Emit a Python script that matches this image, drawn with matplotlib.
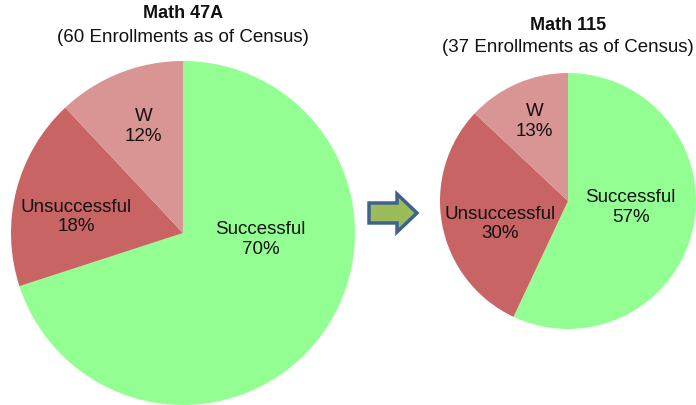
import matplotlib
matplotlib.use("Agg")
import matplotlib.pyplot as plt
from matplotlib.patches import Polygon

plt.rcParams['font.family'] = ['Liberation Sans', 'DejaVu Sans']

categories = ["Successful", "Unsuccessful", "W"]
math47a_values = [70, 18, 12]
math115_values = [57, 30, 13]
titles = ["Math 47A", "Math 115"]
subtitles = ["(60 Enrollments as of Census)", "(37 Enrollments as of Census)"]

colors = ["#93FF93", "#C86464", "#D99594"]

W, H = 696, 405
fig = plt.figure(figsize=(W / 100, H / 100), dpi=100)

def px_axes(cx, cy, r):
    return fig.add_axes([(cx - r) / W, (H - cy - r) / H, 2 * r / W, 2 * r / H])

ax1 = px_axes(183, 233, 172)
ax2 = px_axes(568, 201, 128)

label_pos = [
    [(0.45, -0.04), (-0.62, 0.093), (-0.23, 0.62)],
    [(0.49, -0.05), (-0.53, -0.18), (-0.26, 0.62)],
]

for ax, vals, lp in zip([ax1, ax2], [math47a_values, math115_values], label_pos):
    ax.pie(vals, colors=colors, startangle=90, counterclock=False, radius=1.0,
           wedgeprops=dict(linewidth=0))
    ax.set_xlim(-1, 1)
    ax.set_ylim(-1, 1)
    ax.set_aspect('equal')
    ax.axis('off')
    total = sum(vals)
    for cat, v, (x, y) in zip(categories, vals, lp):
        ax.text(x, y, f"{cat}\n{round(100 * v / total)}%", ha='center', va='center',
                fontsize=13.5, color='#111111', linespacing=1.22)

# titles
fig.text(183 / W, 1 - 14 / H, titles[0], ha='center', va='center', fontsize=13,
         fontweight='bold', color='#111111')
fig.text(183 / W, 1 - 38 / H, subtitles[0], ha='center', va='center', fontsize=13.5,
         color='#111111')
fig.text(568 / W, 1 - 25 / H, titles[1], ha='center', va='center', fontsize=13,
         fontweight='bold', color='#111111')
fig.text(568 / W, 1 - 48 / H, subtitles[1], ha='center', va='center', fontsize=13.5,
         color='#111111')

# arrow
pts_px = [(369, 203), (397, 203), (397, 194), (417, 213), (397, 232), (397, 223), (369, 223)]
pts = [(x / W, 1 - y / H) for x, y in pts_px]
arrow = Polygon(pts, closed=True, facecolor="#9BBB59", edgecolor="#3F6190", linewidth=2.5,
                transform=fig.transFigure)
fig.patches.append(arrow)

fig.savefig("out.png", dpi=100)
